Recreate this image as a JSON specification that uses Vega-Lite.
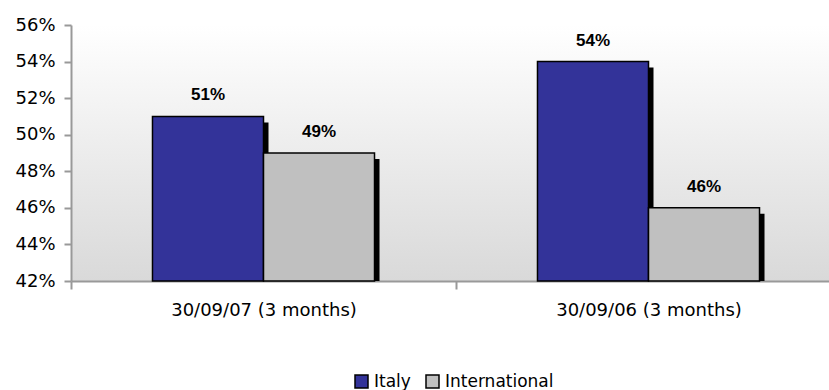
{
  "$schema": "https://vega.github.io/schema/vega-lite/v6.json",
  "width": 758,
  "height": 256,
  "autosize": {"type": "none"},
  "padding": {"left": 71, "top": 25, "right": 0, "bottom": 109},
  "background": "white",
  "config": {
    "font": "DejaVu Sans",
    "view": {
      "stroke": null,
      "fill": {"gradient": "linear", "x1": 0, "y1": 0, "x2": 0, "y2": 1,
        "stops": [{"offset": 0, "color": "#ffffff"}, {"offset": 1, "color": "#d9d9d9"}]}
    }
  },
  "data": {"values": [
    {"period": "30/09/07 (3 months)", "region": "Italy", "share": 0.51},
    {"period": "30/09/07 (3 months)", "region": "International", "share": 0.49},
    {"period": "30/09/06 (3 months)", "region": "Italy", "share": 0.54},
    {"period": "30/09/06 (3 months)", "region": "International", "share": 0.46}
  ]},
  "resolve": {"scale": {"x": "independent", "y": "independent", "xOffset": "independent"}},
  "layer": [
    {
      "mark": {"type": "bar", "fill": "black", "clip": true},
      "encoding": {
        "x": {"field": "period", "type": "nominal", "sort": null,
          "scale": {"range": [5, 775], "paddingInner": 0, "paddingOuter": 0}, "axis": null},
        "xOffset": {"field": "region", "type": "nominal", "sort": ["Italy", "International"],
          "scale": {"paddingInner": 0, "paddingOuter": 0.734}},
        "y": {"field": "share", "type": "quantitative",
          "scale": {"domain": [0.42, 0.56], "zero": false, "nice": false, "range": [262, 6]}, "axis": null},
        "y2": {"datum": 0.42}
      }
    },
    {
      "encoding": {
        "x": {
          "field": "period", "type": "nominal", "sort": null,
          "scale": {"range": [0, 770], "paddingInner": 0, "paddingOuter": 0},
          "axis": {
            "title": null, "tickBand": "extent", "labelAngle": 0, "labelLimit": 400,
            "domainColor": "#999999", "domainWidth": 2,
            "tickColor": "#999999", "tickWidth": 2, "tickSize": 8,
            "labelPadding": 12, "labelFontSize": 18, "labelFont": "DejaVu Sans", "labelColor": "black"
          }
        },
        "xOffset": {
          "field": "region", "type": "nominal", "sort": ["Italy", "International"],
          "scale": {"paddingInner": 0, "paddingOuter": 0.734}
        },
        "y": {
          "field": "share", "type": "quantitative",
          "scale": {"domain": [0.42, 0.56], "zero": false, "nice": false},
          "axis": {
            "title": null, "format": ".0%", "grid": false,
            "values": [0.42, 0.44, 0.46, 0.48, 0.5, 0.52, 0.54, 0.56],
            "domainColor": "#999999", "domainWidth": 2,
            "tickColor": "#999999", "tickWidth": 2, "tickSize": 7,
            "labelPadding": 9, "labelFontSize": 18, "labelFont": "DejaVu Sans", "labelColor": "black"
          }
        }
      },
      "layer": [
        {
          "mark": {"type": "bar", "stroke": "black", "strokeWidth": 1.5},
          "encoding": {
            "y2": {"datum": 0.42},
            "color": {
              "field": "region", "type": "nominal",
              "scale": {"domain": ["Italy", "International"], "range": ["#333399", "#c0c0c0"]},
              "legend": {
                "orient": "none", "legendX": 282, "legendY": 348, "direction": "horizontal",
                "title": null, "symbolType": "square", "symbolSize": 169,
                "symbolStrokeColor": "black", "symbolStrokeWidth": 1.5, "symbolOpacity": 1,
                "labelFontSize": 17, "labelFont": "DejaVu Sans", "labelColor": "black",
                "labelOffset": 4, "columnPadding": 12
              }
            }
          }
        },
        {
          "mark": {"type": "text", "font": "Liberation Sans", "fontWeight": "bold", "fontSize": 17,
            "baseline": "middle", "dy": -21, "color": "black"},
          "encoding": {"text": {"field": "share", "type": "quantitative", "format": ".0%"}}
        }
      ]
    }
  ]
}
